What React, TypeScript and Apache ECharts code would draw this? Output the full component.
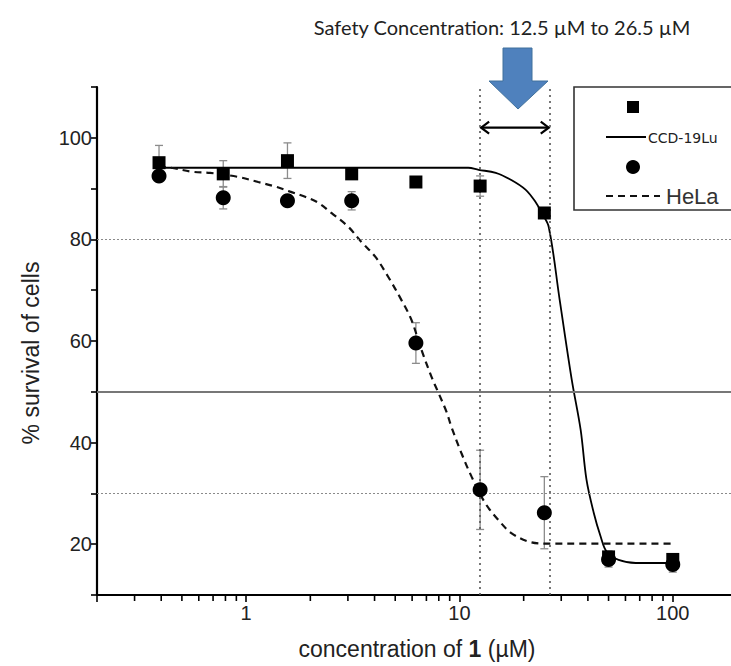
import React, { useEffect, useRef } from "react";
import * as echarts from "echarts";

// ---- data ----
const concentrations = [0.390625, 0.78125, 1.5625, 3.125, 6.25, 12.5, 25, 50, 100];
const ccdMean = [95.1, 92.9, 95.5, 92.9, 91.3, 90.5, 85.2, 17.5, 17.0];
const ccdSd = [3.4, 2.6, 3.5, 0.8, 0.6, 2.0, 0.8, 1.2, 1.0];
const helaMean = [92.5, 88.2, 87.6, 87.6, 59.6, 30.7, 26.2, 17.0, 16.0];
const helaSd = [1.0, 2.2, 1.0, 1.8, 4.0, 7.8, 7.1, 1.5, 1.5];

const ccdFitX = [0.39, 2, 6, 11.0, 12.3, 14.8, 17.5, 20.4, 22.7, 24.3, 26.2, 29.5, 33.6, 37.0, 39.4, 42.6, 45.9, 49.0, 55.7, 67.0, 100];
const ccdFitY = [94.1, 94.1, 94.1, 94.1, 93.7, 93.1, 91.7, 89.8, 87.4, 85.2, 82.5, 68.1, 52.4, 42.5, 32.7, 26.2, 21.5, 18.5, 16.9, 16.3, 16.3];
const helaFitX = [0.39, 0.444, 0.564, 0.678, 0.917, 1.14, 1.37, 1.61, 1.89, 2.18, 2.51, 3.01, 3.47, 4.03, 4.64, 5.34, 5.95, 6.63, 7.39, 7.97, 8.69, 9.17, 10.2, 11.4, 13.2, 15.2, 17.5, 21.1, 25.3, 100];
const helaFitY = [94.3, 94.1, 93.3, 93.1, 92.3, 91.3, 90.4, 89.4, 88.4, 87.2, 85.2, 82.5, 79.5, 76.6, 72.6, 68.1, 64.2, 58.3, 53.0, 49.8, 46.1, 43.1, 38.0, 33.3, 28.1, 24.8, 22.2, 20.5, 20.1, 20.1];

const xMajorLabels = [1, 10, 100];
const xMinorTicks = [0.3, 0.4, 0.5, 0.6, 0.7, 0.8, 0.9, 2, 3, 4, 5, 6, 7, 8, 9, 20, 30, 40, 50, 60, 70, 80, 90];
const yTickLabels = [20, 40, 60, 80, 100];
const dottedLevels = [80, 30];
const solidLevels = [50];
const safetyRange = [12.5, 26.5];
const arrowLevel = 102;
const titleText = "Safety Concentration: 12.5 \u00b5M to 26.5 \u00b5M";
const seriesNames = ["CCD-19Lu", "HeLa"];

const X_MIN = 0.2;
const X_MAX = 200;
const Y_MIN = 10;
const Y_MAX = 110;

const GRAY_ERR = "#8c8c8c";

function errorBarSeries(name: string, means: number[], sds: number[]) {
  return {
    type: "custom",
    name: name + "-err",
    z: 2,
    clip: false,
    silent: true,
    encode: { x: 0, y: [1, 2] },
    data: concentrations.map((c, i) => [c, means[i] - sds[i], means[i] + sds[i]]),
    renderItem: (params: any, api: any) => {
      const x = api.value(0);
      const top = api.coord([x, api.value(2)]);
      const bot = api.coord([x, api.value(1)]);
      const w = 4;
      const st = { stroke: GRAY_ERR, lineWidth: 1.3 };
      return {
        type: "group",
        children: [
          { type: "line", shape: { x1: top[0], y1: top[1], x2: bot[0], y2: bot[1] }, style: st },
          { type: "line", shape: { x1: top[0] - w, y1: top[1], x2: top[0] + w, y2: top[1] }, style: st },
          { type: "line", shape: { x1: bot[0] - w, y1: bot[1], x2: bot[0] + w, y2: bot[1] }, style: st },
        ],
      };
    },
  };
}

export default function App() {
  const ref = useRef<HTMLDivElement>(null);
  useEffect(() => {
    if (!ref.current) return;
    const chart = echarts.init(ref.current, undefined, { renderer: "svg" });
    const font = "'Liberation Sans', Arial, sans-serif";
    const option: any = {
      animation: false,
      backgroundColor: "#ffffff",
      grid: { left: 97, right: 2, top: 87, bottom: 71, containLabel: false },
      xAxis: {
        type: "log",
        logBase: 10,
        min: X_MIN,
        max: X_MAX,
        splitLine: { show: false },
        axisLine: { show: true, onZero: false, lineStyle: { color: "#000", width: 2.2 } },
        axisTick: { show: true, length: 7, lineStyle: { color: "#000", width: 1.6 } },
        axisLabel: {
          color: "#222",
          fontSize: 20,
          fontFamily: font,
          margin: 8,
          showMinLabel: true,
          showMaxLabel: true,
          formatter: (v: number) => {
            const m = xMajorLabels.find((t) => Math.abs(t - v) / t < 1e-6);
            return m !== undefined ? String(m) : "";
          },
        },
        name: "{a|concentration of }{b|1}{a| (\u00b5M)}",
        nameLocation: "middle",
        nameGap: 42,
        nameTextStyle: {
          rich: {
            a: { fontSize: 23, fontFamily: font, color: "#222" },
            b: { fontSize: 23, fontFamily: font, color: "#222", fontWeight: "bold" },
          },
        },
      },
      yAxis: {
        type: "value",
        min: Y_MIN,
        max: Y_MAX,
        interval: 10,
        splitLine: { show: false },
        axisLine: { show: true, onZero: false, lineStyle: { color: "#000", width: 2.2 } },
        axisTick: { show: true, length: 6, lineStyle: { color: "#000", width: 1.6 } },
        axisLabel: {
          color: "#222",
          fontSize: 20,
          fontFamily: font,
          margin: 5,
          formatter: (v: number) => (yTickLabels.indexOf(v) >= 0 ? String(v) : ""),
        },
        name: "% survival of cells",
        nameLocation: "middle",
        nameGap: 55,
        nameTextStyle: { fontSize: 23, fontFamily: font, color: "#222", padding: [0, 24, 0, 0] },
      },
      series: [
        {
          type: "line",
          name: "refs",
          data: [],
          silent: true,
          z: 1,
          markLine: {
            silent: true,
            symbol: "none",
            label: { show: false },
            animation: false,
            data: [
              ...dottedLevels.map((v) => ({ yAxis: v, lineStyle: { color: "#8a8a8a", width: 1.2, type: [2, 2] } })),
              ...solidLevels.map((v) => ({ yAxis: v, lineStyle: { color: "#777", width: 2, type: "solid" } })),
              ...safetyRange.map((v) => ({ xAxis: v, lineStyle: { color: "#555", width: 1.6, type: [2, 4] } })),
            ],
          },
        },
        {
          type: "custom",
          name: "minorTicks",
          silent: true,
          clip: false,
          z: 3,
          data: xMinorTicks.map((v) => [v, Y_MIN]),
          renderItem: (params: any, api: any) => {
            const p = api.coord([api.value(0), api.value(1)]);
            return {
              type: "line",
              shape: { x1: p[0], y1: p[1], x2: p[0], y2: p[1] + 6 },
              style: { stroke: "#000", lineWidth: 1.6 },
            };
          },
        },
        {
          type: "custom",
          name: "rangeArrow",
          silent: true,
          clip: false,
          z: 3,
          data: [[safetyRange[0], arrowLevel, safetyRange[1]]],
          renderItem: (params: any, api: any) => {
            const a = api.coord([api.value(0), api.value(1)]);
            const b = api.coord([api.value(2), api.value(1)]);
            const st = { stroke: "#000", lineWidth: 2.2, fill: "none" };
            const h = 6;
            return {
              type: "group",
              children: [
                { type: "line", shape: { x1: a[0] + 1, y1: a[1], x2: b[0] - 1, y2: b[1] }, style: st },
                { type: "polyline", shape: { points: [[a[0] + 1 + h + 2, a[1] - h], [a[0] + 1, a[1]], [a[0] + 1 + h + 2, a[1] + h]] }, style: st },
                { type: "polyline", shape: { points: [[b[0] - 1 - h - 2, b[1] - h], [b[0] - 1, b[1]], [b[0] - 1 - h - 2, b[1] + h]] }, style: st },
              ],
            };
          },
        },
        {
          type: "line",
          name: seriesNames[0] + " fit",
          data: ccdFitX.map((x, i) => [x, ccdFitY[i]]),
          showSymbol: false,
          smooth: 0.35,
          silent: true,
          z: 3,
          lineStyle: { color: "#000", width: 1.8 },
        },
        {
          type: "line",
          name: seriesNames[1] + " fit",
          data: helaFitX.map((x, i) => [x, helaFitY[i]]),
          showSymbol: false,
          smooth: 0.35,
          silent: true,
          z: 3,
          lineStyle: { color: "#111", width: 2.2, type: [7, 5] },
        },
        errorBarSeries(seriesNames[0], ccdMean, ccdSd),
        errorBarSeries(seriesNames[1], helaMean, helaSd),
        {
          type: "scatter",
          name: seriesNames[0],
          symbol: "rect",
          symbolSize: 13,
          z: 5,
          itemStyle: { color: "#000", opacity: 1 },
          data: concentrations.map((c, i) => [c, ccdMean[i]]),
        },
        {
          type: "scatter",
          name: seriesNames[1],
          symbol: "circle",
          symbolSize: 15,
          z: 5,
          itemStyle: { color: "#000", opacity: 1 },
          data: concentrations.map((c, i) => [c, helaMean[i]]),
        },
      ],
      graphic: [
        {
          type: "text",
          x: 502,
          y: 27,
          style: {
            text: titleText,
            fontSize: 20,
            fontFamily: "Lato, 'Open Sans', sans-serif",
            fill: "#222",
            align: "center",
            verticalAlign: "middle",
          },
        },
        {
          type: "polygon",
          shape: {
            points: [
              [503, 48], [532, 48], [532, 81], [548, 81], [518, 109], [489, 81], [503, 81],
            ],
          },
          style: { fill: "#4f81bd", stroke: "#41719c", lineWidth: 1 },
        },
        {
          type: "rect",
          shape: { x: 574, y: 87, width: 200, height: 123 },
          style: { fill: "#fff", stroke: "#333", lineWidth: 1.6 },
          z: 10,
        },
        {
          type: "rect",
          shape: { x: 627, y: 101, width: 12, height: 12 },
          style: { fill: "#000" },
          z: 11,
        },
        {
          type: "line",
          shape: { x1: 606, y1: 137, x2: 646, y2: 137 },
          style: { stroke: "#000", lineWidth: 1.8 },
          z: 11,
        },
        {
          type: "text",
          x: 648,
          y: 138,
          style: { text: seriesNames[0], fontSize: 14, fontFamily: "'DejaVu Sans', Verdana, sans-serif", fill: "#222", align: "left", verticalAlign: "middle" },
          z: 11,
        },
        {
          type: "circle",
          shape: { cx: 633, cy: 167, r: 7 },
          style: { fill: "#000" },
          z: 11,
        },
        {
          type: "line",
          shape: { x1: 606, y1: 196, x2: 660, y2: 196 },
          style: { stroke: "#111", lineWidth: 2, lineDash: [7, 5] },
          z: 11,
        },
        {
          type: "text",
          x: 666,
          y: 196,
          style: { text: seriesNames[1], fontSize: 22, fontFamily: font, fill: "#333", align: "left", verticalAlign: "middle" },
          z: 11,
        },
      ],
    };
    chart.setOption(option);
    return () => chart.dispose();
  }, []);

  return (
    <div style={{ position: "absolute", left: 0, top: 0, width: 731, height: 666, overflow: "hidden", background: "#fff" }}>
      <div ref={ref} style={{ width: 740, height: 666 }} />
    </div>
  );
}
